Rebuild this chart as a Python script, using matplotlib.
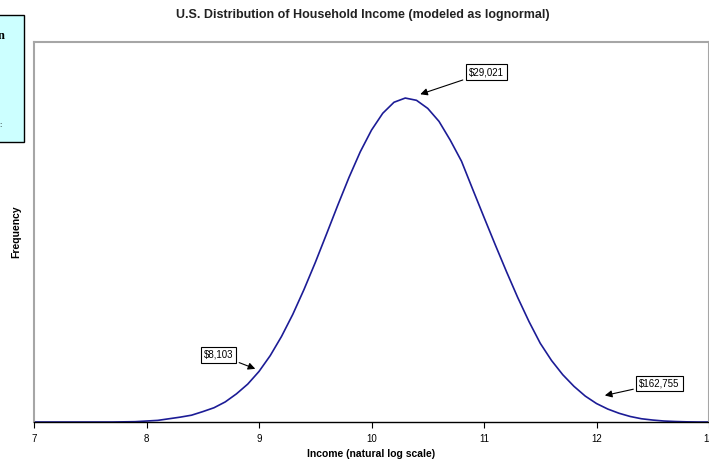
import matplotlib.pyplot as plt
from matplotlib.patches import Rectangle

plt.rcParams['font.family'] = ['Liberation Sans', 'DejaVu Sans']

# log income (x) and relative frequency (y)
log_income = [7.0, 7.7, 7.8, 7.9, 8.0, 8.1, 8.2, 8.3, 8.4, 8.5, 8.6, 8.7, 8.8, 8.9,
              9.0, 9.1, 9.2, 9.3, 9.4, 9.5, 9.6, 9.7, 9.8, 9.9,
              10.0, 10.1, 10.2, 10.3, 10.4, 10.5, 10.6, 10.7, 10.8, 10.9,
              11.0, 11.1, 11.2, 11.3, 11.4, 11.5, 11.6, 11.7, 11.8, 11.9,
              12.0, 12.1, 12.2, 12.3, 12.4, 12.5, 12.6, 12.7, 12.8, 12.9, 13.0]
frequency = [0.0, 0.0, 0.0005, 0.001, 0.003, 0.005, 0.010, 0.015, 0.021, 0.032, 0.044, 0.062, 0.087, 0.117,
             0.156, 0.205, 0.264, 0.332, 0.409, 0.492, 0.580, 0.669, 0.755, 0.834,
             0.901, 0.953, 0.987, 1.000, 0.993, 0.968, 0.928, 0.870, 0.805, 0.718,
             0.632, 0.547, 0.464, 0.384, 0.310, 0.243, 0.190, 0.146, 0.110, 0.080,
             0.057, 0.040, 0.027, 0.017, 0.010, 0.006, 0.003, 0.0015, 0.0005, 0.0, 0.0]

x_ticks = [7, 8, 9, 10, 11, 12, 13]

# annotations: label, point on curve, box position
notes = [("$29,021", (10.41, 1.009), (11.02, 1.080)),
         ("$8,103", (8.99, 0.161), (8.64, 0.208)),
         ("$162,755", (12.05, 0.080), (12.56, 0.119))]

fig = plt.figure(figsize=(7.09, 4.61), dpi=100)
ax = fig.add_axes([34 / 709, 1 - 422 / 461, 675 / 709, 380 / 461])

ax.plot(log_income, frequency, color='#1c1c96', lw=1.2)

ax.set_xlim(7, 13)
ax.set_ylim(0, 1.173)
ax.set_xticks(x_ticks)
ax.set_yticks([])
ax.tick_params(axis='x', direction='out', length=4, width=0.8, labelsize=7, pad=5)

for side in ['top', 'left', 'right']:
    ax.spines[side].set_color('#a6a6a6')
    ax.spines[side].set_linewidth(1.5)
ax.spines['bottom'].set_color('black')
ax.spines['bottom'].set_linewidth(1.0)

ax.set_xlabel("Income (natural log scale)", fontsize=7.5, fontweight='bold', labelpad=3)
ax.set_ylabel("Frequency", fontsize=7.5, fontweight='bold', labelpad=9)

fig.text(363 / 709, 1 - 15 / 461, "U.S. Distribution of Household Income (modeled as lognormal)",
         ha='center', va='center', fontsize=9, fontweight='bold', color='#222222')

for label, tip, box in notes:
    ax.annotate(label, xy=tip, xytext=box, ha='center', va='center', fontsize=7,
                bbox=dict(boxstyle='square,pad=0.3', fc='white', ec='black', lw=0.8),
                arrowprops=dict(arrowstyle='-|>,head_length=0.6,head_width=0.3',
                                color='black', lw=0.8))

# cut-off text box at the top left
fig.patches.append(Rectangle((-10 / 709, 1 - 142 / 461), 34 / 709, 127 / 461,
                             transform=fig.transFigure, fc='#ccffff', ec='black', lw=1.0))
fig.text(5 / 709, 1 - 36 / 461, "n", ha='right', va='center', fontsize=9,
         fontweight='bold', family='Liberation Serif')
fig.text(2 / 709, 1 - 125 / 461, ":", ha='right', va='center', fontsize=6)

fig.savefig("out.png", dpi=100)
